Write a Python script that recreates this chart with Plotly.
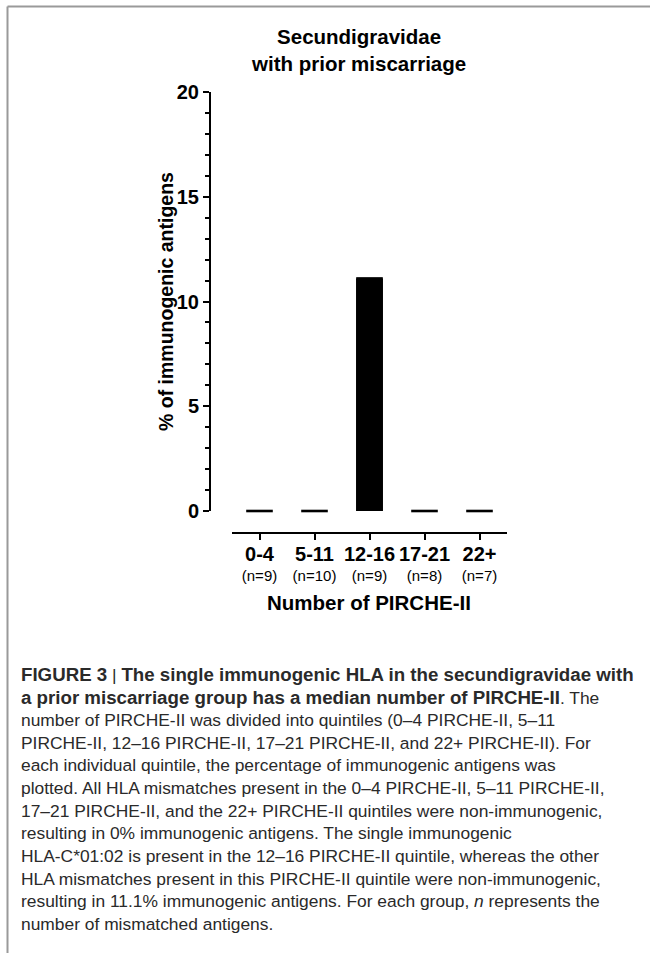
import plotly.graph_objects as go

# ---- data ----
categories = ["0-4", "5-11", "12-16", "17-21", "22+"]
n_labels = ["(n=9)", "(n=10)", "(n=9)", "(n=8)", "(n=7)"]
pct_immunogenic = [0, 0, 11.1, 0, 0]
y_ticks = [0, 5, 10, 15, 20]

W, H = 650, 953

def px_x(x):
    return x / W

def px_y(y):
    return 1 - y / H

tick_text = [f"<span style='font-size:20px'><b>{c}</b></span><br>{n}" for c, n in zip(categories, n_labels)]

fig = go.Figure()
fig.add_trace(go.Bar(
    x=categories, y=pct_immunogenic,
    marker=dict(color="black", line=dict(width=0)),
    width=0.49, showlegend=False,
))
# zero-height bars are drawn as flat dashes at the bar top
fig.add_trace(go.Scatter(
    x=categories, y=pct_immunogenic, mode="markers",
    marker=dict(symbol="line-ew", size=19, line=dict(color="black", width=2.6)),
    showlegend=False, cliponaxis=False,
))

font_chart = "Liberation Sans, Arial, sans-serif"

fig.update_layout(
    width=W, height=H,
    margin=dict(l=0, r=0, t=0, b=0, autoexpand=False),
    paper_bgcolor="white", plot_bgcolor="white",
    font=dict(family=font_chart, color="black"),
    xaxis=dict(
        domain=[px_x(232), px_x(507)],
        anchor="free", position=px_y(533),
        range=[-0.5, 4.5],
        showline=True, linecolor="black", linewidth=2,
        ticks="outside", ticklen=6, tickwidth=2, tickcolor="black",
        tickmode="array", tickvals=categories, ticktext=tick_text,
        tickfont=dict(size=15, family=font_chart, color="black"),
        ticklabelstandoff=3,
        showgrid=False, zeroline=False,
    ),
    yaxis=dict(
        domain=[px_y(511), px_y(92)],
        anchor="free", position=px_x(210),
        range=[0, 20],
        showline=True, linecolor="black", linewidth=2,
        ticks="outside", ticklen=6, tickwidth=2, tickcolor="black",
        tickmode="array", tickvals=y_ticks, ticktext=[f"<b>{v}</b>" for v in y_ticks],
        tickfont=dict(size=20, family=font_chart, color="black"),
        minor=dict(dtick=1, ticks="outside", ticklen=4, tickwidth=2, tickcolor="black", showgrid=False),
        showgrid=False, zeroline=False,
    ),
)

# axis titles
fig.add_annotation(
    x=px_x(369), y=px_y(602), xref="paper", yref="paper",
    text="<b>Number of PIRCHE-II</b>", showarrow=False,
    xanchor="center", yanchor="middle",
    font=dict(size=20.5, family=font_chart, color="black"),
)
fig.add_annotation(
    x=px_x(166), y=px_y(302), xref="paper", yref="paper",
    text="<b>% of immunogenic antigens</b>", showarrow=False, textangle=-90,
    xanchor="center", yanchor="middle",
    font=dict(size=19.5, family=font_chart, color="black"),
)

# chart title
fig.add_annotation(
    x=px_x(358), y=px_y(50), xref="paper", yref="paper",
    text="<b>Secundigravidae<br>with prior miscarriage</b>",
    showarrow=False, xanchor="center", yanchor="middle",
    font=dict(size=20.5, family=font_chart, color="black"),
)

B = "<span style='font-size:18.7px'><b>"
E = "</b></span>"
caption = (
    f"{B}FIGURE 3{E} | {B}The single immunogenic HLA in the secundigravidae with{E}<br>"
    f"{B}a prior miscarriage group has a median number of PIRCHE-II{E}. The<br>"
    "number of PIRCHE-II was divided into quintiles (0–4 PIRCHE-II, 5–11<br>"
    "PIRCHE-II, 12–16 PIRCHE-II, 17–21 PIRCHE-II, and 22+ PIRCHE-II). For<br>"
    "each individual quintile, the percentage of immunogenic antigens was<br>"
    "plotted. All HLA mismatches present in the 0–4 PIRCHE-II, 5–11 PIRCHE-II,<br>"
    "17–21 PIRCHE-II, and the 22+ PIRCHE-II quintiles were non-immunogenic,<br>"
    "resulting in 0% immunogenic antigens. The single immunogenic<br>"
    "HLA-C*01:02 is present in the 12–16 PIRCHE-II quintile, whereas the other<br>"
    "HLA mismatches present in this PIRCHE-II quintile were non-immunogenic,<br>"
    "resulting in 11.1% immunogenic antigens. For each group, <i>n</i> represents the<br>"
    "number of mismatched antigens."
)
fig.add_annotation(
    x=px_x(19), y=px_y(662), xref="paper", yref="paper",
    text=caption, showarrow=False, xanchor="left", yanchor="top", align="left",
    font=dict(size=17.4, family=font_chart, color="#2a2a2a"),
)

# frame
fig.add_shape(type="line", xref="paper", yref="paper",
              x0=px_x(7.5), x1=1, y0=px_y(6.5), y1=px_y(6.5),
              line=dict(color="#9a9a9a", width=2))
fig.add_shape(type="line", xref="paper", yref="paper",
              x0=px_x(7.5), x1=px_x(7.5), y0=px_y(6.5), y1=0,
              line=dict(color="#9a9a9a", width=2))

fig.write_html(
    "out.html",
    config={"displayModeBar": False},
    post_script="document.body.style.margin='0';document.body.style.overflow='hidden';",
)
